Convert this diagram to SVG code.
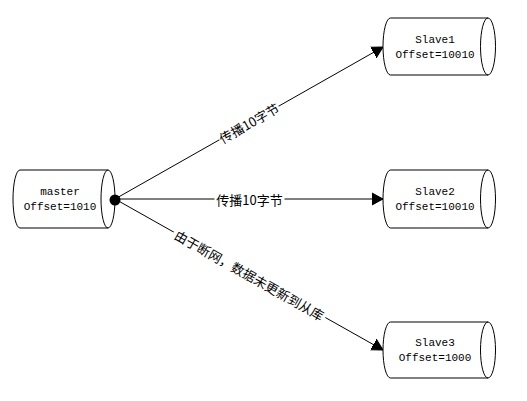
<svg xmlns="http://www.w3.org/2000/svg" width="527" height="401" viewBox="0 0 527 401">
<style>
.cyl{fill:#fff;stroke:#000;stroke-width:1}
.inner{fill:none;stroke:#000;stroke-width:1}
.nt{font-family:"Liberation Mono",monospace;font-size:11px;fill:#000;text-anchor:middle}
.edge{fill:none;stroke:#000;stroke-width:1}
.lt{font-family:"Noto Sans CJK SC","Noto Sans",sans-serif;font-size:13px;fill:#000;text-anchor:middle;dominant-baseline:central}
.lbg{fill:#fff;stroke:none}
</style>
<defs>
<marker id="arr" markerUnits="userSpaceOnUse" markerWidth="12" markerHeight="14" refX="11" refY="6" orient="auto" viewBox="0 0 12 12">
<path d="M0,0 L11,6 L0,12 Z" fill="#000" stroke="#000" stroke-width="1"/>
</marker>
</defs>
<rect width="527" height="401" fill="#fff"/>
<g id="connectors">
<line class="edge" x1="115" y1="199" x2="383" y2="47" marker-end="url(#arr)"/>
<line class="edge" x1="115" y1="199" x2="383" y2="199" marker-end="url(#arr)"/>
<line class="edge" x1="115" y1="199" x2="383" y2="350" marker-end="url(#arr)"/>
<g transform="translate(249,123) rotate(-29.56)">
<rect class="lbg" x="-34" y="-8" width="68" height="16"/>
<text class="lt" x="0" y="0">传播10字节</text>
</g>
<g transform="translate(249.5,199)">
<rect class="lbg" x="-35" y="-8" width="70" height="16"/>
<text class="lt" x="0" y="0">传播10字节</text>
</g>
<g transform="translate(249.5,275) rotate(29.4)">
<rect class="lbg" x="-87" y="-8" width="174" height="16"/>
<text class="lt" x="0" y="0">由于断网，数据未更新到从库</text>
</g>
</g>
<g id="master">
<path class="cyl" d="M20,170 L108,170 A7,29 0 0 1 108,228 L20,228 A7,29 0 0 1 20,170 Z"/>
<path class="inner" d="M108,170 A7,29 0 0 0 108,228"/>
<text class="nt" x="60" y="195">master</text>
<text class="nt" x="60" y="210">Offset=1010</text>
<circle cx="115" cy="200" r="5.5" fill="#000"/>
</g>
<g id="slave1">
<path class="cyl" d="M390.5,18 L488,18 A7.5,28.5 0 0 1 488,75 L390.5,75 A7.5,28.5 0 0 1 390.5,18 Z"/>
<path class="inner" d="M488,18 A7.5,28.5 0 0 0 488,75"/>
<text class="nt" x="435" y="43">Slave1</text>
<text class="nt" x="435" y="58">Offset=10010</text>
</g>
<g id="slave2">
<path class="cyl" d="M390.5,170 L488,170 A7.5,29 0 0 1 488,228 L390.5,228 A7.5,29 0 0 1 390.5,170 Z"/>
<path class="inner" d="M488,170 A7.5,29 0 0 0 488,228"/>
<text class="nt" x="435" y="195">Slave2</text>
<text class="nt" x="435" y="210">Offset=10010</text>
</g>
<g id="slave3">
<path class="cyl" d="M390.5,322 L488,322 A7.5,28 0 0 1 488,378 L390.5,378 A7.5,28 0 0 1 390.5,322 Z"/>
<path class="inner" d="M488,322 A7.5,28 0 0 0 488,378"/>
<text class="nt" x="435" y="346">Slave3</text>
<text class="nt" x="435" y="361">Offset=1000</text>
</g>
</svg>
